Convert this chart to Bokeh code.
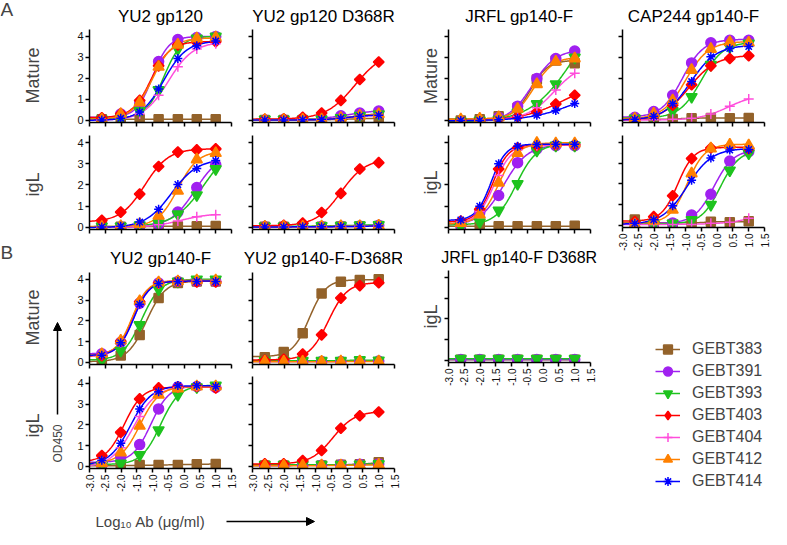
import numpy as np
from bokeh.plotting import figure
from bokeh.layouts import column, row
from bokeh.models import (Range1d, FixedTicker, PrintfTickFormatter, Label, Arrow,
                          NormalHead, Legend, LegendItem)
from bokeh.embed import file_html
from bokeh.resources import INLINE

FONT = "Liberation Sans"

# ---------------- data ----------------
x_log = [-2.61, -2.01, -1.41, -0.81, -0.20, 0.40, 1.00]   # log10 Ab (ug/ml)
antibodies = ["GEBT383", "GEBT391", "GEBT393", "GEBT403", "GEBT404", "GEBT412", "GEBT414"]
colors = ["#93622a", "#a020f0", "#1ec31e", "#ff0000", "#ff4ddb", "#ff8000", "#0000ff"]
markers = ["square", "circle", "inverted_triangle", "square", "cross", "triangle", "asterisk"]
marker_sizes = [9, 10, 11, 7.5, 10, 11, 9]
marker_angles = [0, 0, 0, np.pi / 4, 0, 0, 0]
legend_markers = ["square", "circle", "inverted_triangle", "diamond", "cross", "triangle", "asterisk"]

x_ticks = [-3.0, -2.5, -2.0, -1.5, -1.0, -0.5, 0.0, 0.5, 1.0, 1.5]
y_ticks = [0, 1, 2, 3, 4]

# OD450 values, one row per antibody (order of `antibodies`), None = not shown
yu2_gp120_mature = [
    [0.05, 0.05, 0.05, 0.05, 0.05, 0.05, 0.06],
    [0.05, 0.30, 0.80, 2.80, 3.85, 3.95, 4.00],
    [0.05, 0.10, 0.45, 1.45, 3.40, 3.90, 4.00],
    [0.12, 0.32, 0.95, 2.60, 3.60, 3.72, 3.75],
    [0.02, 0.10, 0.30, 1.20, 2.55, 3.40, 3.65],
    [0.05, 0.30, 0.85, 2.55, 3.60, 3.90, 3.95],
    [0.02, 0.10, 0.40, 1.50, 2.95, 3.55, 3.78],
]
yu2_gp120_igl = [
    [0.03, 0.03, 0.03, 0.05, 0.05, 0.05, 0.06],
    [0.00, 0.02, 0.05, 0.15, 0.72, 1.88, 2.95],
    [0.05, 0.05, 0.10, 0.20, 0.62, 1.52, 2.75],
    [0.33, 0.72, 1.57, 2.87, 3.55, 3.65, 3.70],
    [0.00, 0.02, 0.05, 0.12, 0.30, 0.50, 0.60],
    [0.02, 0.05, 0.15, 0.55, 1.72, 3.20, 3.50],
    [0.02, 0.05, 0.25, 0.85, 2.02, 2.77, 3.15],
]
yu2_gp120_d368r_mature = [
    [0.02, 0.02, 0.02, 0.03, 0.05, 0.08, 0.10],
    [0.02, 0.03, 0.05, 0.10, 0.22, 0.35, 0.45],
    [0.05, 0.05, 0.05, 0.05, 0.12, 0.22, 0.30],
    [0.05, 0.08, 0.15, 0.35, 0.95, 1.95, 2.78],
    [0.02, 0.02, 0.03, 0.05, 0.10, 0.18, 0.25],
    [0.02, 0.02, 0.03, 0.05, 0.12, 0.22, 0.30],
    [0.02, 0.02, 0.03, 0.05, 0.10, 0.20, 0.25],
]
yu2_gp120_d368r_igl = [
    [0.03, 0.03, 0.03, 0.03, 0.04, 0.05, 0.06],
    [0.03, 0.03, 0.03, 0.04, 0.05, 0.07, 0.10],
    [0.05, 0.05, 0.05, 0.07, 0.08, 0.10, 0.12],
    [0.05, 0.10, 0.20, 0.70, 1.60, 2.75, 3.05],
    [0.02, 0.02, 0.03, 0.03, 0.04, 0.05, 0.06],
    [0.03, 0.03, 0.03, 0.04, 0.05, 0.06, 0.08],
    [0.02, 0.02, 0.03, 0.03, 0.04, 0.05, 0.07],
]
jrfl_gp140f_mature = [
    [0.00, 0.05, 0.20, 0.60, 1.95, 2.85, 2.72],
    [-0.08, -0.05, 0.15, 0.68, 2.00, 2.95, 3.30],
    [-0.05, 0.00, 0.05, 0.38, 0.78, 1.73, 3.00],
    [0.00, 0.03, 0.08, 0.18, 0.40, 0.78, 1.20],
    [0.00, 0.02, 0.05, 0.20, 0.60, 1.45, 2.25],
    [0.05, 0.08, 0.15, 0.55, 1.72, 2.80, 2.95],
    [0.00, 0.00, 0.03, 0.10, 0.24, 0.47, 0.80],
]
jrfl_gp140f_igl = [
    [0.05, 0.05, 0.05, 0.05, 0.05, 0.05, 0.08],
    [0.10, 0.70, 1.50, 3.05, 3.70, 3.85, 3.85],
    [0.05, 0.25, 0.80, 2.05, 3.62, 3.86, 3.86],
    [0.30, 0.85, 2.75, 3.75, 3.85, 3.90, 3.90],
    [0.25, 0.75, 2.45, 3.65, 3.85, 3.90, 3.90],
    [0.20, 0.60, 2.10, 3.50, 3.98, 3.95, 3.95],
    [0.35, 1.00, 3.00, 3.82, 3.90, 3.92, 3.92],
]
cap244_gp140f_mature = [
    [0.05, 0.05, 0.07, 0.10, 0.12, 0.10, 0.12],
    [0.15, 0.42, 1.20, 2.74, 3.70, 3.82, 3.82],
    [0.10, 0.10, 0.45, 1.12, 2.65, 3.50, 3.67],
    [0.05, 0.20, 0.72, 1.70, 2.60, 2.95, 3.08],
    [0.00, 0.03, 0.05, 0.10, 0.30, 0.67, 1.02],
    [0.08, 0.32, 0.95, 2.40, 3.40, 3.72, 3.70],
    [0.05, 0.20, 0.80, 1.85, 3.03, 3.42, 3.52],
]
cap244_gp140f_igl = [
    [0.28, 0.08, 0.06, 0.08, 0.18, 0.15, 0.20],
    [0.10, 0.10, 0.12, 0.50, 1.50, 3.10, 3.55],
    [0.10, 0.05, 0.10, 0.27, 1.00, 2.65, 3.48],
    [0.19, 0.42, 1.43, 3.22, 3.73, 3.80, 3.70],
    [0.05, 0.05, 0.05, 0.05, 0.10, 0.15, 0.35],
    [0.05, 0.22, 0.75, 2.50, 3.70, 3.88, 3.85],
    [0.10, 0.27, 0.95, 2.18, 3.25, 3.63, 3.66],
]
yu2_gp140f_mature = [
    [0.03, 0.33, 1.32, 3.10, 3.82, 3.90, 3.90],
    [0.42, 0.97, 2.85, 3.82, 3.90, 3.90, 3.90],
    [0.12, 0.57, 1.80, 3.52, 3.90, 4.00, 4.00],
    [0.33, 1.02, 2.92, 3.82, 3.90, 3.88, 3.88],
    [0.35, 0.95, 2.80, 3.80, 3.90, 3.95, 3.95],
    [0.40, 1.05, 2.95, 3.85, 3.90, 3.95, 3.95],
    [0.35, 0.95, 2.80, 3.80, 3.90, 3.90, 3.90],
]
yu2_gp140f_igl = [
    [0.03, 0.03, 0.07, 0.07, 0.07, 0.10, 0.12],
    [0.07, 0.45, 1.05, 2.77, 3.82, 3.85, 3.80],
    [0.05, 0.15, 0.55, 1.75, 3.45, 3.82, 3.90],
    [0.52, 1.64, 3.25, 3.78, 3.82, 3.85, 3.78],
    [0.20, 0.90, 2.40, 3.50, 3.80, 3.85, 3.85],
    [0.15, 0.67, 1.95, 3.45, 3.75, 3.85, 3.85],
    [0.30, 1.12, 2.77, 3.60, 3.90, 3.90, 3.85],
]
yu2_gp140f_d368r_mature = [
    [0.25, 0.50, 1.41, 3.32, 3.88, 3.97, 4.00],
    [0.05, 0.05, 0.05, 0.05, 0.05, 0.06, 0.07],
    [0.08, 0.08, 0.08, 0.08, 0.08, 0.12, 0.10],
    [0.10, 0.15, 0.40, 1.33, 3.10, 3.70, 3.84],
    None,
    [0.03, 0.03, 0.03, 0.03, 0.04, 0.05, 0.05],
    None,
]
yu2_gp140f_d368r_igl = [
    [0.05, 0.05, 0.05, 0.05, 0.08, 0.10, 0.20],
    [0.05, 0.05, 0.05, 0.06, 0.08, 0.10, 0.12],
    [0.08, 0.08, 0.08, 0.08, 0.08, 0.10, 0.12],
    [0.13, 0.13, 0.28, 0.77, 1.84, 2.44, 2.62],
    None,
    [0.03, 0.03, 0.03, 0.04, 0.05, 0.06, 0.08],
    None,
]
jrfl_gp140f_d368r_igl = [
    [0.03, 0.03, 0.03, 0.03, 0.03, 0.03, 0.03],
    [0.05, 0.05, 0.05, 0.05, 0.05, 0.05, 0.05],
    [0.08, 0.08, 0.08, 0.08, 0.08, 0.08, 0.08],
    None, None, None, None,
]

# ---------------- 4-parameter logistic fit (as in the source figure) ----------------
C_GRID = np.linspace(-4.0, 3.0, 141)
H_GRID = np.linspace(0.3, 3.0, 55)


def fit_curve(xd, yd, xs):
    xd = np.asarray(xd, float)
    yd = np.asarray(yd, float)
    C, H = np.meshgrid(C_GRID, H_GRID, indexing="ij")
    C = C.ravel()[:, None]
    H = H.ravel()[:, None]
    F = 1.0 / (1.0 + 10.0 ** ((C - xd[None, :]) * H))
    fm = F.mean(axis=1, keepdims=True)
    ym = yd.mean()
    var = ((F - fm) ** 2).sum(axis=1)
    cov = ((F - fm) * (yd - ym)[None, :]).sum(axis=1)
    slope = np.where(var > 1e-12, cov / np.maximum(var, 1e-12), 0.0)
    slope = np.maximum(slope, 0.0)          # increasing curves only
    inter = ym - slope * fm[:, 0]
    pred = inter[:, None] + slope[:, None] * F
    sse = ((pred - yd[None, :]) ** 2).sum(axis=1)
    k = int(np.argmin(sse))
    return inter[k] + slope[k] / (1.0 + 10.0 ** ((C[k, 0] - xs) * H[k, 0]))


XS = np.linspace(-3.0, 1.0, 160)


def style_axis(ax, font_size):
    ax.axis_line_width = 1.5
    ax.axis_line_color = "black"
    ax.major_tick_line_width = 1.5
    ax.major_tick_line_color = "black"
    ax.major_tick_out = 4
    ax.major_tick_in = 0
    ax.minor_tick_out = 0
    ax.minor_tick_in = 0
    ax.major_label_text_font = FONT
    ax.major_label_text_font_size = font_size
    ax.major_label_text_color = "#111111"
    ax.major_label_standoff = 2


def make_panel(series, w, h, mbl, mbr, mbt, mbb, title=None, title_standoff=8,
               title_size="17px", xlabels=False, ylabels=False, ylabel=None, ylabel_standoff=4):
    p = figure(width=w, height=h, x_range=Range1d(-3.0, 1.5), y_range=Range1d(-0.1, 4.33),
               output_backend="svg", toolbar_location=None, title=title,
               min_border_left=mbl, min_border_right=mbr,
               min_border_top=mbt, min_border_bottom=mbb)
    p.outline_line_color = None
    p.grid.visible = False
    if title:
        p.title.align = "center"
        p.title.text_font = FONT
        p.title.text_font_size = title_size
        p.title.text_font_style = "normal"
        p.title.text_color = "black"
        p.title.standoff = title_standoff
        p.title.offset = 0
    xa = p.xaxis[0]
    xa.ticker = FixedTicker(ticks=x_ticks)
    xa.formatter = PrintfTickFormatter(format="%.1f")
    xa.major_label_orientation = np.pi / 2
    style_axis(xa, "10px")
    if not xlabels:
        xa.major_label_overrides = {t: "" for t in x_ticks}
    ya = p.yaxis[0]
    ya.ticker = FixedTicker(ticks=y_ticks)
    style_axis(ya, "11px")
    if not ylabels:
        ya.major_label_overrides = {t: "" for t in y_ticks}
    if ylabel:
        ya.axis_label = ylabel
        ya.axis_label_text_font = FONT
        ya.axis_label_text_font_size = "18px"
        ya.axis_label_text_font_style = "normal"
        ya.axis_label_standoff = ylabel_standoff
    # fitted curves first, then the measured points
    for i, vals in enumerate(series):
        if vals is None:
            continue
        p.line(XS, fit_curve(x_log, vals, XS), line_color=colors[i], line_width=1.5)
    for i, vals in enumerate(series):
        if vals is None:
            continue
        p.scatter(x_log, vals, marker=markers[i], size=marker_sizes[i], angle=marker_angles[i],
                  fill_color=colors[i], line_color=colors[i], line_width=1.5)
    return p


# column widths / borders (frame width 142 in every column)
W1, L1, R1 = 174, 23, 9
W2, L2, R2 = 162, 12, 8
W3, L3, R3 = 196, 46, 8
W4, L4, R4 = 173, 24, 7

a1m = make_panel(yu2_gp120_mature, W1, 135, L1, R1, 28, 13, title="YU2 gp120", ylabels=True)
a1i = make_panel(yu2_gp120_igl, W1, 106, L1, R1, 0, 12, ylabels=True)
b1m = make_panel(yu2_gp140f_mature, W1, 135, L1, R1, 29, 12, title="YU2 gp140-F", title_standoff=10, ylabels=True)
b1i = make_panel(yu2_gp140f_igl, W1, 118, L1, R1, 0, 24, ylabels=True, xlabels=True)

a2m = make_panel(yu2_gp120_d368r_mature, W2, 135, L2, R2, 28, 13, title="YU2 gp120 D368R")
a2i = make_panel(yu2_gp120_d368r_igl, W2, 106, L2, R2, 0, 12)
b2m = make_panel(yu2_gp140f_d368r_mature, W2, 135, L2, R2, 29, 12, title="YU2 gp140-F-D368R", title_standoff=10)
b2i = make_panel(yu2_gp140f_d368r_igl, W2, 118, L2, R2, 0, 24, xlabels=True)

a3m = make_panel(jrfl_gp140f_mature, W3, 135, L3, R3, 28, 13, title="JRFL gp140-F", ylabel="Mature")
a3i = make_panel(jrfl_gp140f_igl, W3, 106, L3, R3, 0, 12, ylabel="igL")
b3i = make_panel(jrfl_gp140f_d368r_igl, W3, 147, L3, R3, 29, 24, title="JRFL gp140-F D368R",
                 title_standoff=10, title_size="16px", ylabel="igL", xlabels=True)

a4m = make_panel(cap244_gp140f_mature, W4, 135, L4, R4, 28, 13, title="CAP244 gp140-F")
a4i = make_panel(cap244_gp140f_igl, W4, 118, L4, R4, 0, 24, xlabels=True)

# legend panel (legend renderers carry no visible data)
lg = figure(width=W4, height=241, x_range=Range1d(0, 1), y_range=Range1d(0, 1),
            x_axis_type=None, y_axis_type=None, output_backend="svg",
            toolbar_location=None, title=None, min_border=0)
lg.outline_line_color = None
lg.grid.visible = False
items = []
for i, name in enumerate(antibodies):
    r1 = lg.line(x=[np.nan], y=[np.nan], line_color=colors[i], line_width=1.5)
    r2 = lg.scatter(x=[np.nan], y=[np.nan], marker=legend_markers[i], fill_color=colors[i],
                    line_color=colors[i], line_width=1.5)
    items.append(LegendItem(label=name, renderers=[r1, r2]))
legend = Legend(items=items, location=(33, 2), glyph_width=25, glyph_height=22,
                label_height=22, spacing=0, label_standoff=12, padding=0, margin=0,
                border_line_color=None, background_fill_alpha=0,
                label_text_font=FONT, label_text_font_size="16px")
lg.add_layout(legend)

# left gutter with panel letters, row labels and the OD450 arrow
GH = 494
gut = figure(width=66, height=GH, x_range=Range1d(0, 66), y_range=Range1d(GH, 0),
             x_axis_type=None, y_axis_type=None, output_backend="svg",
             toolbar_location=None, title=None, min_border=0)
gut.outline_line_color = None
gut.grid.visible = False
for txt, y in [("A", 9), ("B", 252)]:
    gut.add_layout(Label(x=0, y=y, text=txt, text_font=FONT, text_font_size="19px",
                         text_align="left", text_baseline="middle"))
for txt, y in [("Mature", 75), ("igL", 184), ("Mature", 317), ("igL", 425)]:
    gut.add_layout(Label(x=32, y=y, text=txt, angle=np.pi / 2, text_font=FONT,
                         text_font_size="18px", text_align="center", text_baseline="middle"))
gut.add_layout(Label(x=57, y=443, text="OD450", angle=np.pi / 2, text_font=FONT,
                     text_font_size="12px", text_align="center", text_baseline="middle"))
gut.add_layout(Arrow(x_start=57, y_start=414, x_end=57, y_end=322, line_width=1.5,
                     end=NormalHead(size=8, fill_color="black", line_color="black")))

# bottom strip with the x-axis title
SH = 37
strip = figure(width=771, height=SH, x_range=Range1d(0, 771), y_range=Range1d(SH, 0),
               x_axis_type=None, y_axis_type=None, output_backend="svg",
               toolbar_location=None, title=None, min_border=0)
strip.outline_line_color = None
strip.grid.visible = False
strip.add_layout(Label(x=150, y=27, text="Log\u2081\u2080 Ab (\u03bcg/ml)", text_font=FONT,
                       text_font_size="15px", text_align="center", text_baseline="middle"))
strip.add_layout(Arrow(x_start=226, y_start=27, x_end=314, y_end=27, line_width=1.5,
                       end=NormalHead(size=8, fill_color="black", line_color="black")))

top = row(gut, column(a1m, a1i, b1m, b1i), column(a2m, a2i, b2m, b2i),
          column(a3m, a3i, b3i), column(a4m, a4i, lg))
layout = column(top, strip)

open("out.html", "w").write(file_html(layout, INLINE))
